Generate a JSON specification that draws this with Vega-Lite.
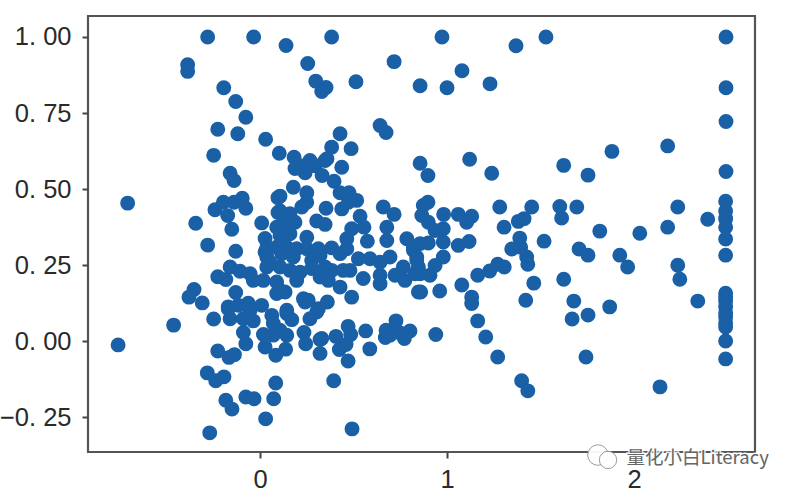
{"$schema":"https://vega.github.io/schema/vega-lite/v6.json","autosize":"none","width":667,"height":436,"padding":{"left":88,"top":16,"right":43,"bottom":42},"background":"white","view":{"stroke":"#555555","strokeWidth":2.2,"fill":"white"},"config":{"axis":{"domain":false,"grid":false,"tickColor":"#444444","tickWidth":2,"tickSize":6,"labelFont":"Liberation Sans","labelFontSize":25.5,"labelColor":"#2a2a2a","title":null}},"layer":[{"data":{"values":[{"x":-0.28,"y":1.0},{"x":-0.034,"y":1.0},{"x":0.139,"y":0.972},{"x":0.383,"y":1.0},{"x":-0.387,"y":0.909},{"x":-0.387,"y":0.887},{"x":0.255,"y":0.913},{"x":0.298,"y":0.855},{"x":0.353,"y":0.834},{"x":0.33,"y":0.821},{"x":-0.194,"y":0.833},{"x":-0.13,"y":0.788},{"x":-0.076,"y":0.736},{"x":-0.226,"y":0.697},{"x":-0.119,"y":0.682},{"x":0.03,"y":0.664},{"x":0.383,"y":0.638},{"x":0.428,"y":0.682},{"x":-0.248,"y":0.611},{"x":0.103,"y":0.618},{"x":0.182,"y":0.605},{"x":0.214,"y":0.577},{"x":0.241,"y":0.554},{"x":0.294,"y":0.577},{"x":0.348,"y":0.594},{"x":0.358,"y":0.6},{"x":0.332,"y":0.545},{"x":0.437,"y":0.572},{"x":0.187,"y":0.568},{"x":0.267,"y":0.594},{"x":0.487,"y":0.633},{"x":0.513,"y":0.853},{"x":0.642,"y":0.709},{"x":0.674,"y":0.686},{"x":0.717,"y":0.919},{"x":0.856,"y":0.84},{"x":1.0,"y":0.833},{"x":0.973,"y":1.0},{"x":1.08,"y":0.889},{"x":1.23,"y":0.846},{"x":1.369,"y":0.971},{"x":1.529,"y":1.0},{"x":2.492,"y":1.0},{"x":2.492,"y":0.833},{"x":2.492,"y":0.722},{"x":0.856,"y":0.585},{"x":0.898,"y":0.545},{"x":1.121,"y":0.598},{"x":1.239,"y":0.552},{"x":1.624,"y":0.578},{"x":1.754,"y":0.546},{"x":1.882,"y":0.624},{"x":2.18,"y":0.642},{"x":2.492,"y":0.558},{"x":-0.708,"y":0.454},{"x":-0.16,"y":0.552},{"x":-0.139,"y":0.528},{"x":-0.344,"y":0.388},{"x":-0.241,"y":0.432},{"x":-0.196,"y":0.457},{"x":-0.173,"y":0.413},{"x":-0.139,"y":0.457},{"x":-0.095,"y":0.47},{"x":-0.076,"y":0.437},{"x":-0.151,"y":0.368},{"x":-0.28,"y":0.316},{"x":-0.13,"y":0.296},{"x":0.009,"y":0.389},{"x":0.096,"y":0.472},{"x":0.096,"y":0.423},{"x":-0.16,"y":0.244},{"x":-0.226,"y":0.212},{"x":-0.183,"y":0.203},{"x":-0.107,"y":0.23},{"x":-0.053,"y":0.222},{"x":0.018,"y":0.2},{"x":-0.036,"y":0.2},{"x":-0.353,"y":0.17},{"x":-0.38,"y":0.145},{"x":-0.309,"y":0.126},{"x":-0.13,"y":0.16},{"x":-0.17,"y":0.113},{"x":-0.063,"y":0.125},{"x":0.009,"y":0.118},{"x":0.089,"y":0.157},{"x":0.027,"y":0.338},{"x":0.036,"y":0.309},{"x":0.036,"y":0.277},{"x":0.036,"y":0.244},{"x":-0.759,"y":-0.012},{"x":-0.462,"y":0.053},{"x":-0.248,"y":0.073},{"x":-0.17,"y":0.107},{"x":-0.16,"y":0.074},{"x":-0.116,"y":0.118},{"x":-0.089,"y":0.074},{"x":-0.036,"y":0.067},{"x":-0.053,"y":0.102},{"x":0.063,"y":0.085},{"x":0.143,"y":0.091},{"x":0.17,"y":0.071},{"x":0.267,"y":0.074},{"x":0.303,"y":0.096},{"x":0.241,"y":0.129},{"x":0.071,"y":0.058},{"x":0.107,"y":0.036},{"x":0.143,"y":0.02},{"x":0.018,"y":0.022},{"x":0.071,"y":0.02},{"x":-0.089,"y":0.029},{"x":-0.076,"y":-0.008},{"x":0.027,"y":-0.019},{"x":0.137,"y":-0.026},{"x":0.084,"y":-0.046},{"x":0.235,"y":0.029},{"x":0.244,"y":-0.008},{"x":0.321,"y":0.006},{"x":0.321,"y":-0.04},{"x":-0.226,"y":-0.032},{"x":-0.137,"y":-0.044},{"x":-0.166,"y":-0.053},{"x":-0.282,"y":-0.104},{"x":-0.237,"y":-0.13},{"x":-0.193,"y":-0.117},{"x":0.084,"y":-0.137},{"x":-0.183,"y":-0.194},{"x":-0.15,"y":-0.223},{"x":-0.076,"y":-0.183},{"x":-0.032,"y":-0.189},{"x":0.073,"y":-0.189},{"x":0.03,"y":-0.255},{"x":-0.269,"y":-0.301},{"x":0.178,"y":0.506},{"x":0.396,"y":0.526},{"x":0.25,"y":0.488},{"x":0.107,"y":0.477},{"x":0.428,"y":0.488},{"x":0.476,"y":0.488},{"x":0.517,"y":0.463},{"x":0.25,"y":0.457},{"x":0.223,"y":0.441},{"x":0.107,"y":0.428},{"x":0.353,"y":0.437},{"x":0.437,"y":0.435},{"x":0.472,"y":0.457},{"x":0.659,"y":0.441},{"x":0.717,"y":0.417},{"x":0.535,"y":0.411},{"x":0.303,"y":0.395},{"x":0.348,"y":0.384},{"x":0.16,"y":0.419},{"x":0.187,"y":0.391},{"x":0.125,"y":0.391},{"x":0.089,"y":0.375},{"x":0.49,"y":0.37},{"x":0.556,"y":0.375},{"x":0.574,"y":0.329},{"x":0.678,"y":0.375},{"x":0.678,"y":0.331},{"x":0.464,"y":0.337},{"x":0.25,"y":0.342},{"x":0.107,"y":0.348},{"x":0.16,"y":0.353},{"x":0.027,"y":0.293},{"x":0.089,"y":0.309},{"x":0.143,"y":0.309},{"x":0.196,"y":0.304},{"x":0.25,"y":0.304},{"x":0.312,"y":0.304},{"x":0.383,"y":0.307},{"x":0.464,"y":0.304},{"x":0.428,"y":0.288},{"x":0.321,"y":0.282},{"x":0.276,"y":0.266},{"x":0.178,"y":0.277},{"x":0.116,"y":0.288},{"x":0.053,"y":0.26},{"x":0.107,"y":0.244},{"x":0.16,"y":0.233},{"x":0.214,"y":0.227},{"x":0.276,"y":0.239},{"x":0.348,"y":0.244},{"x":0.383,"y":0.233},{"x":0.445,"y":0.233},{"x":0.481,"y":0.233},{"x":0.321,"y":0.211},{"x":0.365,"y":0.2},{"x":0.428,"y":0.178},{"x":0.49,"y":0.145},{"x":0.552,"y":0.206},{"x":0.642,"y":0.217},{"x":0.642,"y":0.189},{"x":0.526,"y":0.271},{"x":0.588,"y":0.271},{"x":0.642,"y":0.26},{"x":0.695,"y":0.277},{"x":0.722,"y":0.217},{"x":0.785,"y":0.337},{"x":0.766,"y":0.244},{"x":0.775,"y":0.2},{"x":0.82,"y":0.309},{"x":0.838,"y":0.266},{"x":0.829,"y":0.222},{"x":0.847,"y":0.162},{"x":0.089,"y":0.195},{"x":0.134,"y":0.162},{"x":0.107,"y":0.167},{"x":0.196,"y":0.2},{"x":0.232,"y":0.14},{"x":0.258,"y":0.135},{"x":0.36,"y":0.129},{"x":0.312,"y":0.107},{"x":0.143,"y":0.102},{"x":1.132,"y":0.124},{"x":1.421,"y":0.135},{"x":1.164,"y":0.067},{"x":1.207,"y":0.014},{"x":1.271,"y":-0.052},{"x":1.399,"y":-0.13},{"x":1.432,"y":-0.163},{"x":0.471,"y":0.049},{"x":0.485,"y":0.022},{"x":0.565,"y":0.034},{"x":0.406,"y":0.016},{"x":0.33,"y":0.009},{"x":0.46,"y":-0.011},{"x":0.424,"y":-0.027},{"x":0.587,"y":-0.025},{"x":0.471,"y":-0.065},{"x":0.394,"y":-0.13},{"x":0.492,"y":-0.288},{"x":0.727,"y":0.067},{"x":0.674,"y":0.036},{"x":0.67,"y":0.012},{"x":0.727,"y":0.034},{"x":0.695,"y":0.02},{"x":0.772,"y":0.009},{"x":0.802,"y":0.034},{"x":0.749,"y":0.027},{"x":0.94,"y":0.022},{"x":0.898,"y":0.457},{"x":0.873,"y":0.446},{"x":0.865,"y":0.413},{"x":0.9,"y":0.391},{"x":0.982,"y":0.417},{"x":1.06,"y":0.417},{"x":1.132,"y":0.411},{"x":1.105,"y":0.391},{"x":1.282,"y":0.441},{"x":1.453,"y":0.441},{"x":1.603,"y":0.443},{"x":1.613,"y":0.405},{"x":1.694,"y":0.441},{"x":1.412,"y":0.403},{"x":1.381,"y":0.394},{"x":1.305,"y":0.375},{"x":0.936,"y":0.364},{"x":0.98,"y":0.37},{"x":0.98,"y":0.326},{"x":1.06,"y":0.315},{"x":1.118,"y":0.328},{"x":1.389,"y":0.339},{"x":1.519,"y":0.329},{"x":1.346,"y":0.303},{"x":1.394,"y":0.309},{"x":1.706,"y":0.303},{"x":0.856,"y":0.321},{"x":0.9,"y":0.323},{"x":0.82,"y":0.299},{"x":0.838,"y":0.277},{"x":0.98,"y":0.277},{"x":0.936,"y":0.249},{"x":0.847,"y":0.244},{"x":0.909,"y":0.217},{"x":0.856,"y":0.222},{"x":1.426,"y":0.277},{"x":1.432,"y":0.253},{"x":1.306,"y":0.244},{"x":1.271,"y":0.253},{"x":1.228,"y":0.231},{"x":1.164,"y":0.217},{"x":1.079,"y":0.185},{"x":0.961,"y":0.165},{"x":0.859,"y":0.162},{"x":1.464,"y":0.191},{"x":1.624,"y":0.204},{"x":1.132,"y":0.145},{"x":1.678,"y":0.132},{"x":2.234,"y":0.441},{"x":2.394,"y":0.401},{"x":2.18,"y":0.375},{"x":1.817,"y":0.362},{"x":2.031,"y":0.355},{"x":1.754,"y":0.283},{"x":1.924,"y":0.283},{"x":1.966,"y":0.244},{"x":2.234,"y":0.25},{"x":2.245,"y":0.204},{"x":1.87,"y":0.113},{"x":2.341,"y":0.132},{"x":1.669,"y":0.073},{"x":1.754,"y":0.086},{"x":1.743,"y":-0.052},{"x":2.139,"y":-0.15},{"x":2.49,"y":0.46},{"x":2.49,"y":0.428},{"x":2.49,"y":0.403},{"x":2.49,"y":0.375},{"x":2.49,"y":0.336},{"x":2.49,"y":0.283},{"x":2.49,"y":0.158},{"x":2.49,"y":0.145},{"x":2.49,"y":0.132},{"x":2.49,"y":0.113},{"x":2.49,"y":0.093},{"x":2.49,"y":0.08},{"x":2.49,"y":0.06},{"x":2.49,"y":0.047},{"x":2.49,"y":0.001},{"x":2.49,"y":-0.058}]},"mark":{"type":"point","filled":true,"opacity":1,"size":222,"color":"#1a60a6"},"encoding":{"x":{"field":"x","type":"quantitative","scale":{"domain":[-0.92,2.647],"nice":false,"zero":false},"axis":{"values":[0,1,2],"format":"d","labelPadding":9}},"y":{"field":"y","type":"quantitative","scale":{"domain":[-0.364,1.069],"nice":false,"zero":false},"axis":{"values":[-0.25,0,0.25,0.5,0.75,1],"labelExpr":"replace(format(datum.value,'.2f'),'.','. ')","labelPadding":11}}}},{"data":{"values":[{"label":"mark"}]},"mark":{"type":"point","filled":true,"fill":"white","stroke":"#999999","strokeWidth":1,"size":420,"opacity":0.95},"encoding":{"x":{"datum":1.807},"y":{"datum":-0.374}}},{"data":{"values":[{"label":"mark"}]},"mark":{"type":"point","filled":true,"fill":"white","stroke":"#999999","strokeWidth":1,"size":300,"opacity":0.95},"encoding":{"x":{"datum":1.861},"y":{"datum":-0.39}}},{"data":{"values":[{"label":"量化小白Literacy"}]},"mark":{"type":"text","align":"left","baseline":"middle","font":"Noto Sans CJK SC","fontSize":18.5,"color":"#666666","stroke":"white","strokeWidth":3,"strokeOpacity":0.9},"encoding":{"x":{"datum":1.96},"y":{"datum":-0.384},"text":{"field":"label"}}},{"data":{"values":[{"label":"量化小白Literacy"}]},"mark":{"type":"text","align":"left","baseline":"middle","font":"Noto Sans CJK SC","fontSize":18.5,"color":"#666666"},"encoding":{"x":{"datum":1.96},"y":{"datum":-0.384},"text":{"field":"label"}}}]}
